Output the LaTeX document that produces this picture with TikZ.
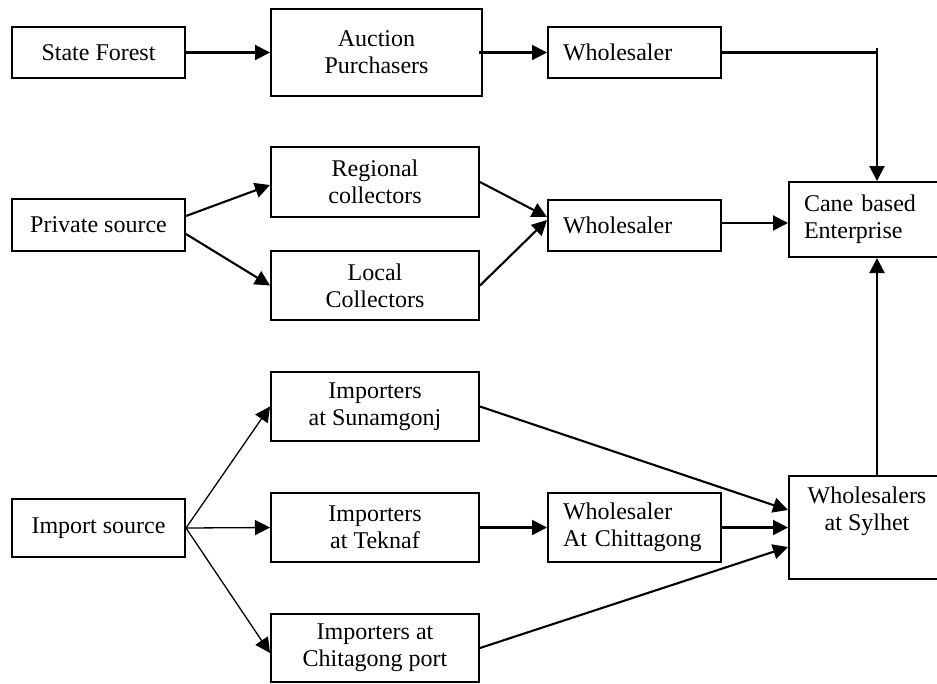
\documentclass[tikz,border=0pt]{standalone}
\usepackage{fontspec}
\setmainfont{Liberation Serif}
\usetikzlibrary{arrows.meta}
\begin{document}
\begin{tikzpicture}[x=1pt,y=-1pt,
  box/.style={draw,line width=2pt,rectangle,inner sep=0pt,align=center,font=\fontsize{24}{27}\selectfont},
  lbox/.style={draw,line width=2pt,rectangle,inner ysep=0pt,inner xsep=15pt,align=left,font=\fontsize{24}{27}\selectfont},
  conn/.style={line width=2.1pt,-{Triangle[length=15pt,width=15pt]}},
  thinconn/.style={line width=1.3pt,-{Triangle[length=15pt,width=15pt]}}]
\useasboundingbox (0,0) rectangle (937,683);
\clip (0,0) rectangle (937,683);
% row 1
\node[box,minimum width=173pt,minimum height=51pt] (sf) at (98.5,52.5) {State Forest};
\node[box,minimum width=211pt,minimum height=87pt] (ap) at (376.5,52.5) {Auction\\Purchasers};
\node[lbox,text width=143pt,minimum height=51pt] (w1) at (634.5,52.5) {Wholesaler};
% row 2
\node[box,minimum width=173pt,minimum height=52pt] (ps) at (98.5,225) {Private source};
\node[box,minimum width=208pt,minimum height=70pt] (rc) at (375,182) {Regional\\collectors};
\node[box,minimum width=208pt,minimum height=69pt] (lc) at (375,285.5) {Local\\Collectors};
\node[lbox,text width=143pt,minimum height=51pt] (w2) at (634.5,225.5) {Wholesaler};
\node[lbox,text width=126pt,minimum height=75pt] (cane) at (867,219.5) {Cane based\\Enterprise};
% row 3
\node[box,minimum width=173pt,minimum height=58pt] (is) at (98.5,528) {Import source};
\node[box,minimum width=208pt,minimum height=69pt] (isu) at (375,406.5) {Importers\\at Sunamgonj};
\node[box,minimum width=208pt,minimum height=69pt] (ite) at (375,527.5) {Importers\\at Teknaf};
\node[box,minimum width=208pt,minimum height=68pt] (icp) at (375,648) {Importers at\\Chitagong port};
\node[lbox,text width=143pt,minimum height=69pt] (wc) at (634.5,527.5) {Wholesaler\\At Chittagong};
\node[box,minimum width=156pt,minimum height=103pt] (syl) at (867,527.5) {};
\node[align=center,inner sep=0pt,font=\fontsize{24}{27}\selectfont] (syltext) at (867,511) {Wholesalers\\at Sylhet};
% connectors
\coordinate (c1) at (877,52.5);
\coordinate (c0) at (877,48);
\draw[conn] (sf) -- (ap);
\draw[conn] ([xshift=-4pt]ap.east) -- (w1);
\draw[line width=2.1pt] (w1.east) -- (c1);
\draw[conn] (c0) -- (c0 |- cane.north);
\draw[conn] ([yshift=9pt]ps.east) -- ([yshift=-3pt]rc.west);
\draw[conn] ([yshift=-9pt]ps.east) -- (lc.west);
\draw[conn] (rc.east) -- ([yshift=8.5pt]w2.west);
\draw[conn] (lc.east) -- ([yshift=5.5pt]w2.west);
\draw[conn] ([yshift=2.5pt]w2.east) -- ([yshift=-3.5pt]cane.west);
\draw[conn] (syl.north -| c1) -- (cane.south -| c1);
\draw[thinconn] (is.east) -- (isu.west);
\draw[thinconn] (is.east) -- (ite.west);
\draw[thinconn] (is.east) -- ([yshift=-5pt]icp.west);
\draw[conn] (isu.east) -- ([yshift=17.5pt]syl.west);
\draw[conn] (ite.east) -- (wc.west);
\draw[conn] (wc.east) -- (syl.west);
\draw[conn] (icp.east) -- ([yshift=-19.5pt]syl.west);
\end{tikzpicture}
\end{document}
